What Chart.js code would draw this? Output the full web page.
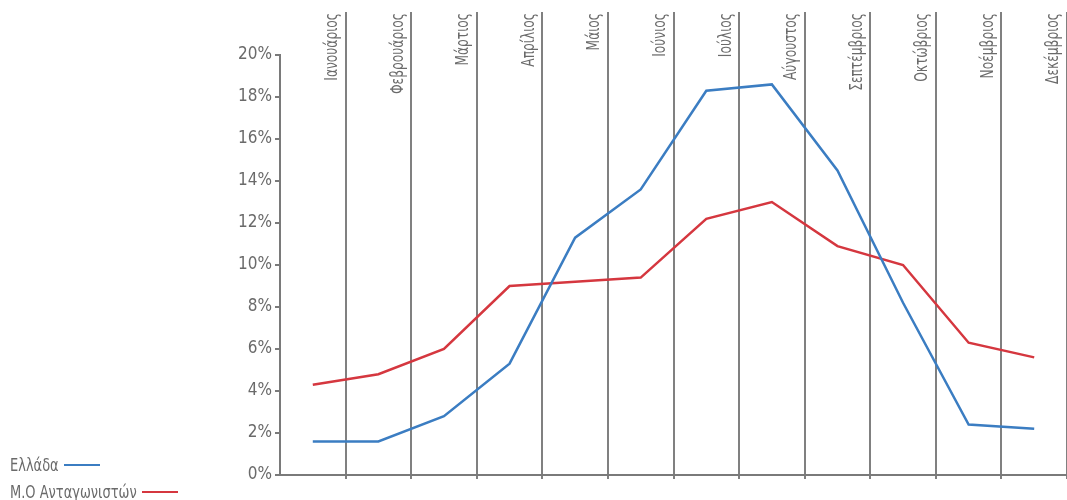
<!DOCTYPE html>
<html>
<head>
<meta charset="utf-8">
<script src="https://cdn.jsdelivr.net/npm/chart.js@4.4.1/dist/chart.umd.min.js"></script>
<style>
html,body{margin:0;padding:0;background:#fff;}
#wrap{position:relative;width:1067px;height:500px;overflow:hidden;}
#c{display:block;}
.lg{position:absolute;left:10px;height:20px;display:flex;align-items:center;white-space:nowrap;
  font-family:"Liberation Sans Narrow","DejaVu Sans Condensed","Roboto Condensed","DejaVu Sans",sans-serif;
  font-size:17px;color:#6a6a6a;}
.lg .tx{display:inline-block;transform:scaleX(0.85);transform-origin:left center;}
.lg .ln{display:inline-block;height:2px;position:absolute;top:9px;width:36px;}
</style>
</head>
<body>
<div id="wrap">
<canvas id="c" width="1067" height="500"></canvas>
</div>
<script>
// ---- data ----
const months = ["Ιανουάριος","Φεβρουάριος","Μάρτιος","Απρίλιος","Μάιος","Ιούνιος","Ιούλιος","Αύγουστος","Σεπτέμβριος","Οκτώβριος","Νοέμβριος","Δεκέμβριος"];
const greeceValues = [1.6, 1.6, 2.8, 5.3, 11.3, 13.6, 18.3, 18.6, 14.5, 8.2, 2.4, 2.2];
const competitorsValues = [4.3, 4.8, 6.0, 9.0, 9.2, 9.4, 12.2, 13.0, 10.9, 10.0, 6.3, 5.6];
const seriesNames = ["Ελλάδα", "M.O Ανταγωνιστών"];
const yTickValues = [0, 2, 4, 6, 8, 10, 12, 14, 16, 18, 20];

const FONT_FAMILY = '"Liberation Sans Narrow","DejaVu Sans Condensed","Roboto Condensed","DejaVu Sans",sans-serif';
const TEXT_COLOR = '#6a6a6a';
const GRID_COLOR = '#808080';
const BLUE = '#3b7dc2';
const RED = '#d5373f';

const monthLabelPlugin = {
  id: 'monthLabels',
  afterDraw(chart) {
    const xs = chart.scales.x;
    const ctx = chart.ctx;
    const band = xs.width / months.length;
    ctx.save();
    ctx.font = '17px ' + FONT_FAMILY;
    ctx.fillStyle = TEXT_COLOR;
    ctx.textAlign = 'right';
    ctx.textBaseline = 'middle';
    months.forEach((m, i) => {
      const x = xs.getPixelForValue(i) + band / 2 - 13;
      ctx.save();
      ctx.translate(x, 13);
      ctx.rotate(-Math.PI / 2);
      ctx.scale(0.8, 1);
      ctx.fillText(m, 0, 0);
      ctx.restore();
    });
    ctx.restore();
  }
};

const gridColor = (c) => (c.index === 0 ? 'rgba(0,0,0,0)' : GRID_COLOR);

const chart = new Chart(document.getElementById('c'), {
  type: 'line',
  data: {
    labels: months,
    datasets: [
      { label: seriesNames[0], data: greeceValues, borderColor: BLUE, backgroundColor: BLUE,
        borderWidth: 2.5, pointRadius: 0, tension: 0, xAxisID: 'x', yAxisID: 'y' },
      { label: seriesNames[1], data: competitorsValues, borderColor: RED, backgroundColor: RED,
        borderWidth: 2.5, pointRadius: 0, tension: 0, xAxisID: 'x', yAxisID: 'y' }
    ]
  },
  options: {
    responsive: false,
    animation: false,
    devicePixelRatio: 1,
    layout: { padding: { top: 12, left: 0, right: -3, bottom: 21 } },
    plugins: { legend: { display: false }, tooltip: { enabled: false } },
    scales: {
      x: {
        type: 'category',
        position: 'bottom',
        offset: true,
        grid: { offset: true, color: gridColor, lineWidth: 2, tickLength: 4, drawOnChartArea: true },
        border: { display: true, color: '#7a7a7a', width: 2 },
        ticks: { display: false }
      },
      xTop: {
        type: 'category',
        position: 'top',
        offset: true,
        grid: { offset: true, color: gridColor, lineWidth: 2, tickLength: 43, drawOnChartArea: false },
        border: { display: false },
        ticks: { display: false }
      },
      y: {
        min: 0,
        max: 20,
        afterBuildTicks: (s) => { s.ticks = yTickValues.map(v => ({ value: v })); },
        afterFit: (s) => { s.width = 280; },
        grid: { drawOnChartArea: false, drawTicks: true, tickLength: 5, color: '#7a7a7a', lineWidth: 2 },
        border: { display: true, color: '#7a7a7a', width: 2 },
        ticks: {
          padding: 3,
          color: TEXT_COLOR,
          font: { family: FONT_FAMILY, size: 17 },
          callback: (v) => v + '%'
        }
      }
    }
  },
  plugins: [monthLabelPlugin]
});

// HTML legend built from dataset names/colours
const wrap = document.getElementById('wrap');
const legendY = [455, 482];
chart.data.datasets.forEach((ds, i) => {
  const d = document.createElement('div');
  d.className = 'lg';
  d.style.top = legendY[i] + 'px';
  const t = document.createElement('span');
  t.className = 'tx';
  t.textContent = ds.label;
  d.appendChild(t);
  wrap.appendChild(d);
  const w = t.getBoundingClientRect().width; // width after scaleX
  const l = document.createElement('span');
  l.className = 'ln';
  l.style.left = (w + 5) + 'px';
  l.style.background = ds.borderColor;
  d.appendChild(l);
});
</script>
</body>
</html>
